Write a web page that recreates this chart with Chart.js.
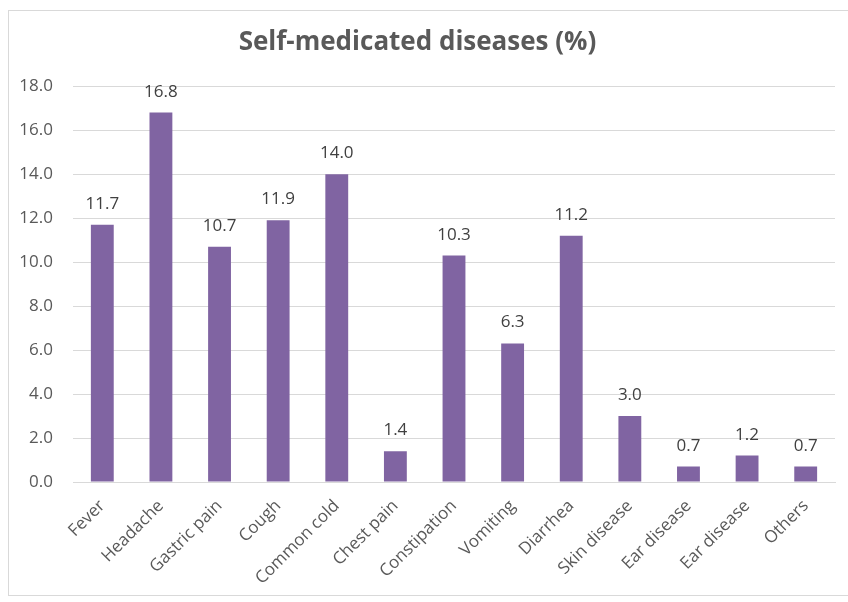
<!DOCTYPE html>
<html>
<head>
<meta charset="utf-8">
<script src="https://cdn.jsdelivr.net/npm/chart.js@4/dist/chart.umd.min.js"></script>
<style>
    html, body { margin: 0; padding: 0; background: #ffffff; }
    #wrap { position: relative; width: 848px; height: 602px; }
    #frame {
        position: absolute; left: 8px; top: 10px; width: 848px; height: 586px;
        border: 1px solid #d9d9d9; box-sizing: border-box; pointer-events: none;
    }
</style>
</head>
<body>
<div id="wrap">
    <canvas id="chart" width="848" height="602"></canvas>
    <div id="frame"></div>
</div>
<script>
// Data
const categories = ['Fever', 'Headache', 'Gastric pain', 'Cough', 'Common cold', 'Chest pain',
    'Constipation', 'Vomiting', 'Diarrhea', 'Skin disease', 'Ear disease', 'Ear disease', 'Others'];
const percentages = [11.7, 16.8, 10.7, 11.9, 14.0, 1.4, 10.3, 6.3, 11.2, 3.0, 0.7, 1.2, 0.7];
const yTicks = [0, 2, 4, 6, 8, 10, 12, 14, 16, 18];

const FONT = "'Open Sans', 'Liberation Sans', sans-serif";

// Draws the value above each bar
const barValueLabels = {
    id: 'barValueLabels',
    afterDatasetsDraw(chart) {
        const ctx = chart.ctx;
        const meta = chart.getDatasetMeta(0);
        ctx.save();
        ctx.font = `17px ${FONT}`;
        ctx.fillStyle = '#404040';
        ctx.textAlign = 'center';
        ctx.textBaseline = 'alphabetic';
        meta.data.forEach((bar, i) => {
            ctx.fillText(percentages[i].toFixed(1), bar.x, bar.y - 16);
        });
        ctx.restore();
    }
};

new Chart(document.getElementById('chart'), {
    type: 'bar',
    data: {
        labels: categories,
        datasets: [{
            label: 'Self-medicated diseases (%)',
            data: percentages,
            backgroundColor: '#8064a2',
            barPercentage: 0.39,
            categoryPercentage: 1.0
        }]
    },
    options: {
        responsive: false,
        animation: false,
        layout: { padding: { left: 0, right: 13, top: 0, bottom: 0 } },
        plugins: {
            legend: { display: false },
            tooltip: { enabled: false },
            title: {
                display: true,
                text: 'Self-medicated diseases (%)',
                color: '#595959',
                font: { family: FONT, size: 26, weight: 'bold', lineHeight: 1.2 },
                padding: { top: 27, bottom: 28 }
            }
        },
        scales: {
            y: {
                min: 0,
                max: 18,
                afterBuildTicks(axis) {
                    axis.ticks = yTicks.map(v => ({ value: v }));
                },
                afterFit(axis) { axis.width = 73; },
                ticks: {
                    color: '#595959',
                    font: { family: FONT, size: 17 },
                    padding: 20,
                    callback: v => Number(v).toFixed(1)
                },
                grid: { color: '#d9d9d9', lineWidth: 1, drawTicks: false },
                border: { display: false }
            },
            x: {
                afterFit(axis) { axis.height = 120; },
                ticks: {
                    color: '#595959',
                    font: { family: FONT, size: 17 },
                    minRotation: 45,
                    maxRotation: 45,
                    padding: 14
                },
                grid: { display: false, drawTicks: false },
                border: { color: '#d9d9d9' }
            }
        }
    },
    plugins: [barValueLabels]
});
</script>
</body>
</html>
